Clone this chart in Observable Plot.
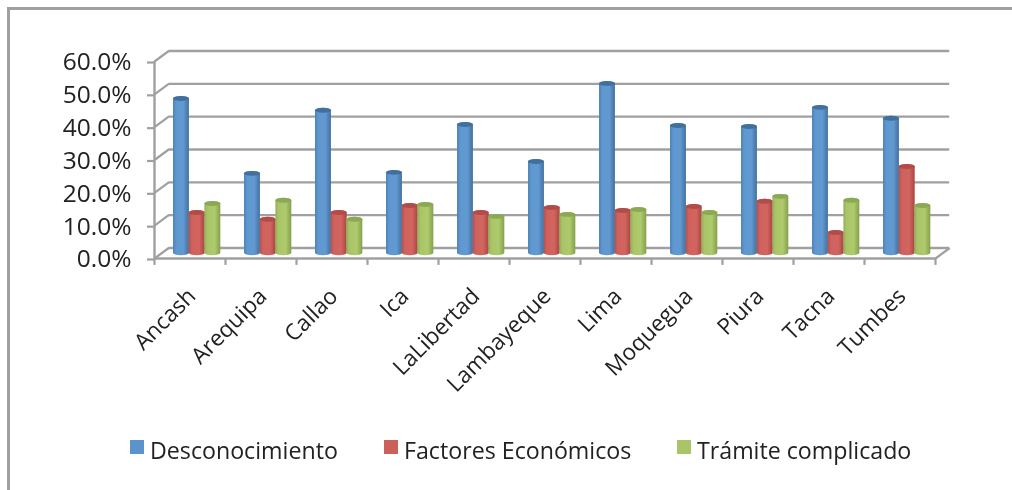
<!DOCTYPE html>
<html lang="es">
<head>
<meta charset="utf-8">
<script src="https://cdn.jsdelivr.net/npm/d3@7"></script>
<script src="https://cdn.jsdelivr.net/npm/@observablehq/plot@0.6"></script>
<style>
  html, body { margin: 0; padding: 0; background: #fff; width: 1012px; height: 490px; overflow: hidden; }
  body { position: relative; font-family: "Open Sans", sans-serif; color: #222; }
  #frame { position: absolute; left: 7px; top: 7px; width: 1100px; height: 600px; border: 3px solid #a0a0a0; box-sizing: border-box; filter: blur(0.4px); }
  #chart { position: absolute; left: 0; top: 0; filter: blur(0.4px); }
  #legend { position: absolute; left: 0; top: 430px; width: 1012px; height: 40px; font-size: 23.2px; filter: blur(0.4px); }
  .item { position: absolute; top: 0; display: flex; align-items: center; height: 40px; }
  .sw { width: 14px; height: 14px; margin-right: 6px; margin-top: -6px; }
</style>
</head>
<body>
<div id="frame"></div>
<div id="chart"></div>
<div id="legend"></div>
<script>
const regions = ["Ancash","Arequipa","Callao","Ica","LaLibertad","Lambayeque","Lima","Moquegua","Piura","Tacna","Tumbes"];
const desconocimiento = [47.5,24.7,43.9,25.0,39.6,28.3,52.1,39.3,39.0,44.8,41.5];
const factores = [12.8,10.7,12.8,14.9,12.8,14.3,13.4,14.6,16.2,6.7,26.8];
const tramite = [15.5,16.5,10.7,15.2,11.6,12.2,13.7,12.8,17.7,16.5,14.9];
const seriesNames = ["Desconocimiento","Factores Económicos","Trámite complicado"];
const swatchColors = ["#5b93cb","#cc605b","#a9c568"];
const yTicks = [0,10,20,30,40,50,60];
const xEdges = d3.range(0, regions.length + 1);
const depthX = 0.2, depthY = 3.2;
const gridColor = "#a0a0a0";

const barStart = [0.268, 0.49, 0.71];
const barWidth = 0.224;

const gradients = [
  ["gBlue",  "#4a80b8", "#5f98d0", "#6299d1", "#42719f"],
  ["gRed",   "#b9504c", "#cf625d", "#d2655f", "#a94541"],
  ["gGreen", "#93ae58", "#a9c568", "#aeca6c", "#84a04c"]
];
const capColors = ["#41709f", "#b24c48", "#8ba853"];

function defs() {
  const g = document.createElementNS("http://www.w3.org/2000/svg", "defs");
  g.innerHTML = gradients.map(([id, a, b, c, d]) =>
    `<linearGradient id="${id}" x1="0" x2="1" y1="0" y2="0">
      <stop offset="0" stop-color="${a}"/><stop offset="0.2" stop-color="${b}"/>
      <stop offset="0.65" stop-color="${c}"/><stop offset="1" stop-color="${d}"/>
    </linearGradient>`).join("");
  return g;
}

function barsFor(values, k) {
  const data = values.map((v, i) => ({x1: i + barStart[k], x2: i + barStart[k] + barWidth, v}));
  return [
    Plot.rectY(data, {x1: "x1", x2: "x2", y1: -1, y2: "v", fill: `url(#${gradients[k][0]})`, rx: 8, ry: 2.5, dy: -6}),
    Plot.rect(data, {x1: "x1", x2: "x2", y1: d => d.v - 1.5, y2: "v", fill: capColors[k], rx: 8, ry: 2.5, dy: -6})
  ];
}

const plot = Plot.plot({
  width: 1012, height: 430,
  marginLeft: 154, marginRight: 77, marginTop: 61, marginBottom: 172,
  style: {background: "transparent", fontFamily: "'Open Sans', sans-serif", fontSize: "22.5px", color: "#222", overflow: "visible"},
  x: {domain: [0, regions.length], range: [154, 935], label: null},
  y: {domain: [0, 60], range: [258, 61], label: null},
  marks: [
    defs,
    Plot.ruleY(yTicks, {y: d => d + depthY, x1: depthX, x2: regions.length + depthX, stroke: gridColor, strokeWidth: 2.4}),
    Plot.link(yTicks, {x1: 0, x2: depthX, y1: d => d, y2: d => d + depthY, stroke: gridColor, strokeWidth: 2.2}),
    Plot.link([0], {x1: regions.length, x2: regions.length + depthX, y1: 0, y2: depthY, stroke: gridColor, strokeWidth: 2.2}),
    Plot.ruleX([0], {y1: 0, y2: 60, stroke: gridColor, strokeWidth: 2.4}),
    Plot.ruleY([0], {x1: 0, x2: regions.length, stroke: gridColor, strokeWidth: 2.4}),
    Plot.ruleX(xEdges, {x: d => d, y1: 0, y2: -2.1, stroke: gridColor, strokeWidth: 2.2}),
    ...barsFor(desconocimiento, 0),
    ...barsFor(factores, 1),
    ...barsFor(tramite, 2),
    Plot.axisY({ticks: yTicks, tickFormat: d => d.toFixed(1) + "%", tickSize: 7, stroke: gridColor, strokeWidth: 2.2, tickPadding: 16, label: null, fontSize: 24.5, dy: 1}),
    Plot.axisX({ticks: regions.map((_, i) => i + 0.5), tickFormat: d => regions[Math.floor(d)], tickSize: 0, tickRotate: -45, tickPadding: 34, label: null, fontSize: 22.5, dx: 2})
  ]
});
document.getElementById("chart").append(plot);

const legendLeft = [130, 384, 677];
const legend = document.getElementById("legend");
seriesNames.forEach((name, i) => {
  const it = document.createElement("div");
  it.className = "item";
  it.style.left = legendLeft[i] + "px";
  it.innerHTML = `<span class="sw" style="background:${swatchColors[i]}"></span><span>${name}</span>`;
  legend.append(it);
});
</script>
</body>
</html>
